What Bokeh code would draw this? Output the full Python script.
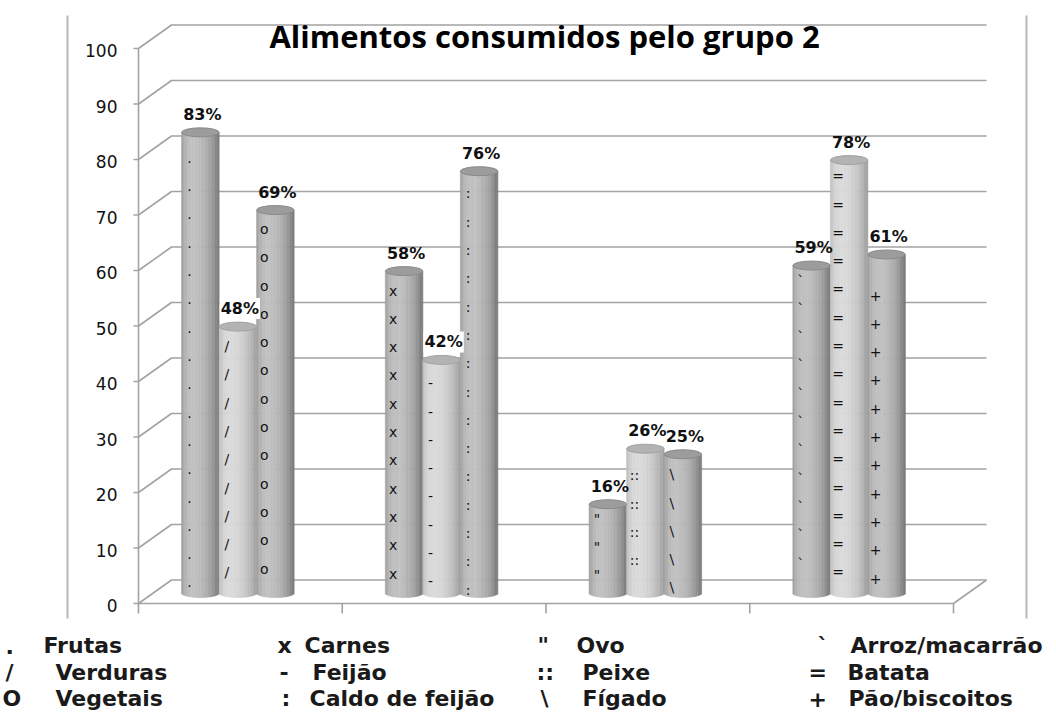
import numpy as np
from bokeh.plotting import figure
from bokeh.models import Range1d, ColumnDataSource
from bokeh.embed import file_html
from bokeh.resources import INLINE
from bokeh.core.properties import value

# ---------------- data ----------------
title_text = "Alimentos consumidos pelo grupo 2"
foods = ["Frutas", "Verduras", "Vegetais",
         "Carnes", "Feijão", "Caldo de feijão",
         "Ovo", "Peixe", "Fígado",
         "Arroz/macarrão", "Batata", "Pão/biscoitos"]
percent = [83, 48, 69, 58, 42, 76, 16, 26, 25, 59, 78, 61]
bar_marks = [".", "/", "o", "x", "-", ":", '"', "::", "\\", "`", "=", "+"]
legend_marks = [".", "/", "O", "x", "-", ":", '"', "::", "\\", "`", "=", "+"]
group_of = [0, 0, 0, 1, 1, 1, 2, 2, 2, 3, 3, 3]
slot_of = [0, 1, 2, 0, 1, 2, 0, 1, 2, 0, 1, 2]
y_ticks = [0, 10, 20, 30, 40, 50, 60, 70, 80, 90, 100]
y_tick_labels = ["0", "10", "20", "30", "40", "50", "60", "70", "80", "90", "100"]
n_groups = 4

# ---------------- layout constants (canvas pixels) ----------------
W, H = 1056, 713
PX_X = 203.75          # px per category
PX_Y = 5.55            # px per percent unit
X0, Y0 = 138, 603      # front-left corner of the floor (px)


def rx(px):
    return (px - X0) / PX_X


def ry(py):
    return (Y0 - py) / PX_Y


def dxp(px):
    return px / PX_X


def dyp(px):
    return px / PX_Y


DX, DY = dxp(33), dyp(23.5)         # depth of the 3d box
BW = dxp(37.5)                       # cylinder width
SHIFT = dxp(-2.5)
B0 = dyp(10.5)                       # cylinder base (mid depth)
EH = dyp(9)                          # ellipse height
MARK_STEP = 5.1
mark_start = [1.9, 3.7, 4.4, 3.5, 2.1, 0.6, 3.2, 5.9, 1.0, 5.3, 3.7, 2.6]

p = figure(width=W, height=H,
           x_range=Range1d(rx(0), rx(W)), y_range=Range1d(ry(H), ry(0)),
           output_backend="svg", toolbar_location=None,
           x_axis_location=None, y_axis_location=None,
           min_border=0, outline_line_color=None)
p.grid.visible = False
p.background_fill_color = "white"

GRID = "#a3a3a3"

# outer chart border lines
p.multi_line(xs=[[rx(67), rx(67)], [rx(1026), rx(1026)]],
             ys=[[ry(15), ry(618)], [ry(15), ry(618)]],
             line_color="#b8b8b8", line_width=2)

# gridlines: diagonal on the left side wall + horizontal on the back wall
gx, gy = [], []
for v in y_ticks:
    gx.append([0, DX, n_groups + DX])
    gy.append([v, v + DY, v + DY])
# floor front edge and right edge
gx.append([0, n_groups]); gy.append([0, 0])
gx.append([n_groups, n_groups + DX]); gy.append([0, DY])
# front vertical axis
gx.append([0, 0]); gy.append([0, y_ticks[-1]])
p.multi_line(xs=gx, ys=gy, line_color=GRID, line_width=1.6)

# tick marks
tx = [[dxp(-5), 0] for _ in y_ticks] + [[float(c), float(c)] for c in range(n_groups + 1)]
ty = [[v, v] for v in y_ticks] + [[0, dyp(-10)] for _ in range(n_groups + 1)]
p.multi_line(xs=tx, ys=ty, line_color=GRID, line_width=1.6)

# y tick labels
p.text(x=[dxp(-21)] * len(y_ticks), y=[v - dyp(2) for v in y_ticks], text=y_tick_labels,
       text_font=value("DejaVu Sans"), text_font_size="17px", text_color="#111111",
       text_align="right", text_baseline="middle")

# ---------------- cylinders ----------------
NS = 26
left, right, bottom, top, colors = [], [], [], [], []
ex, ey, ecol, eline = [], [], [], []
centers = []
for i, v in enumerate(percent):
    cx = group_of[i] + 0.5 + (slot_of[i] - 1) * BW + SHIFT
    centers.append(cx)
    if slot_of[i] == 1:
        lo, hi, tc, tl = 152, 218, "#b3b3b3", "#a2a2a2"
    else:
        lo, hi, tc, tl = 112, 192, "#9c9c9c", "#8a8a8a"
    edges = np.linspace(cx - BW / 2, cx + BW / 2, NS + 1)
    for k in range(NS):
        t = (k + 0.5) / NS
        u = 2 * t - 1
        th = np.arcsin(u)
        c = max(0.0, np.cos(th + 0.35))
        I = int(round(lo + (hi - lo) * (0.15 + 0.85 * c ** 1.2)))
        colors.append("#%02x%02x%02x" % (I, I, I))
        left.append(edges[k]); right.append(edges[k + 1])
        bottom.append(B0 - EH / 2 * np.sqrt(max(0.0, 1 - u * u)))
        top.append(B0 + v)
    ex.append(cx); ey.append(B0 + v); ecol.append(tc); eline.append(tl)

p.quad(source=ColumnDataSource(dict(left=left, right=right, bottom=bottom, top=top, c=colors)),
       left="left", right="right", bottom="bottom", top="top",
       fill_color="c", line_color="c", line_width=0.6)
p.ellipse(x=ex, y=ey, width=BW, height=EH, fill_color=ecol, line_color=eline, line_width=1)

# fill marks on the cylinders
mx, my, mt = [], [], []
for i, v in enumerate(percent):
    s = mark_start[i]
    while s < v - 2.5:
        mx.append(centers[i] + dxp(-11)); my.append(B0 + s); mt.append(bar_marks[i])
        s += MARK_STEP
p.text(x=mx, y=my, text=mt, text_font=value("DejaVu Sans"), text_font_size="14px",
       text_color="#111111", text_align="center", text_baseline="middle")

# data labels
bg = []
for i, v in enumerate(percent):
    g = group_of[i]
    if slot_of[i] == 1 and v < percent[3 * g] and v < percent[3 * g + 2]:
        bg.append(1.0)
    else:
        bg.append(0.0)
p.text(x=[c + dxp(2) for c in centers], y=[B0 + v + dyp(18) for v in percent],
       text=["%d%%" % v for v in percent],
       text_font=value("DejaVu Sans"), text_font_size="16px", text_font_style="bold",
       text_color="#111111", text_align="center", text_baseline="middle",
       background_fill_color="white", background_fill_alpha=bg, padding=1)

# title
p.text(x=[rx(544)], y=[ry(35)], text=[title_text], text_font=value("Open Sans"),
       text_font_size="31px", text_font_style="bold", text_color="#000000",
       text_align="center", text_baseline="middle")

# ---------------- legend ----------------
sym_px = [5, 5, 2, 277, 279, 281, 537, 536, 540, 817, 808, 808]
txt_px = [43, 55, 55, 304, 312, 309, 576, 582, 582, 850, 847, 848]
row_mid_px = [645, 671.5, 698]
lx, ly, lt = [], [], []
for i, name in enumerate(foods):
    r = i % 3
    lx += [rx(sym_px[i]), rx(txt_px[i])]
    ly += [ry(row_mid_px[r]), ry(row_mid_px[r])]
    lt += [legend_marks[i], name]
p.text(x=lx, y=ly, text=lt, text_font=value("DejaVu Sans"), text_font_size="22px",
       text_font_style="bold", text_color="#1a1a1a", text_align="left",
       text_baseline="middle")

open("out.html", "w").write(file_html(p, INLINE))
